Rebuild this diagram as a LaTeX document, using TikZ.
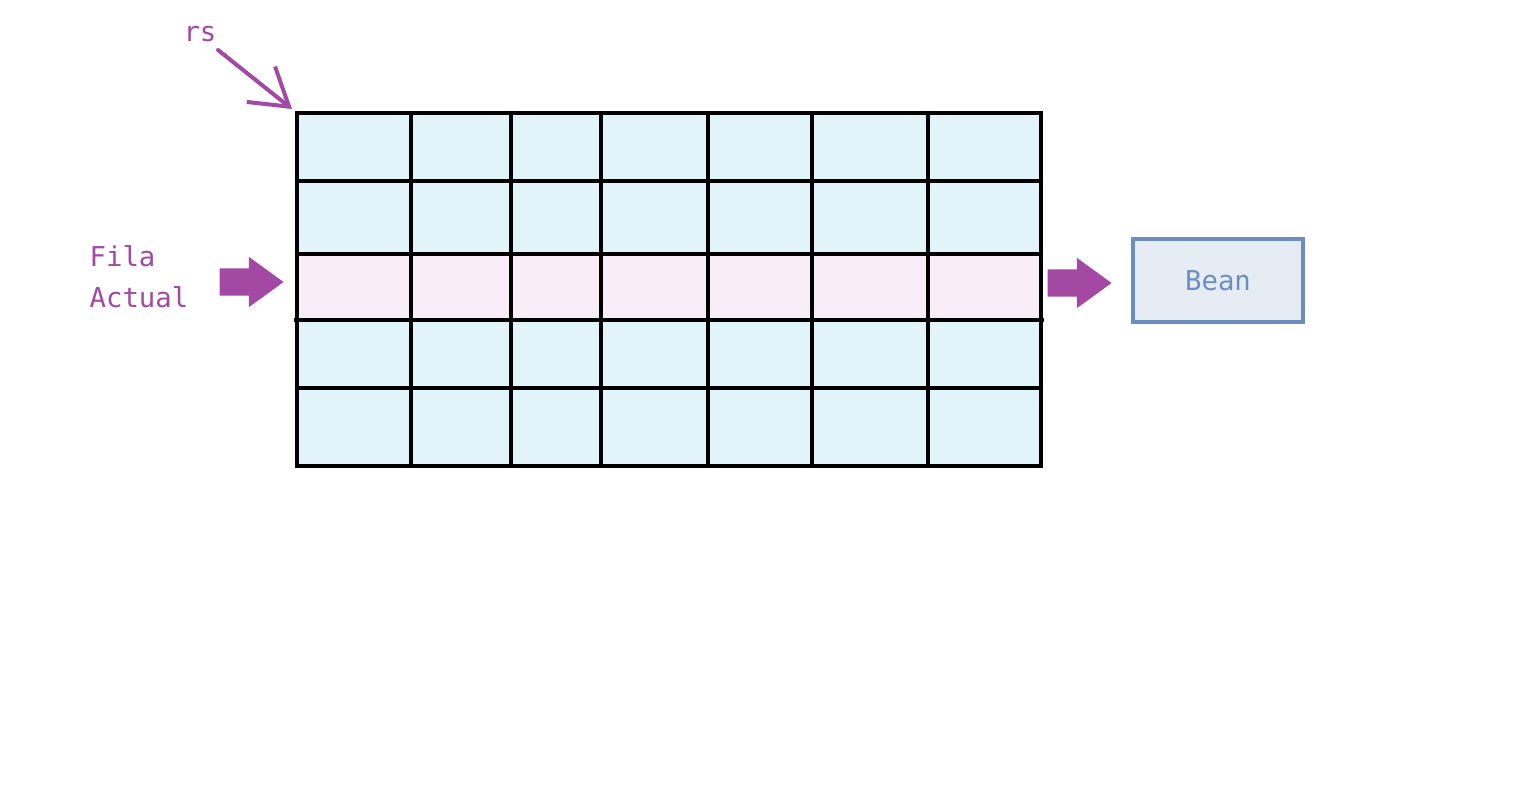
\documentclass[tikz,border=0pt]{standalone}
\usepackage{fontspec}
\setmonofont{DejaVu Sans Mono}
\usetikzlibrary{arrows.meta,shapes.arrows,positioning}

\definecolor{cellblue}{HTML}{E1F4FA}
\definecolor{rowpink}{HTML}{F9EEF8}
\definecolor{purp}{HTML}{A349A4}
\definecolor{beanfill}{HTML}{E6ECF4}
\definecolor{beanline}{HTML}{6C8EBF}

\begin{document}
\begin{tikzpicture}[x=0.75pt,y=-0.75pt,
    gridline/.style={line width=3.4pt,black},
    lbl/.style={font=\ttfamily\fontsize{20.5}{31}\selectfont,text=purp,inner sep=1pt},
    fatarrow/.style={single arrow,fill=purp,draw=none,inner xsep=0pt,inner ysep=10.1pt,
      minimum width=37.5pt,minimum height=48pt,anchor=tip,
      single arrow head extend=8.6pt,single arrow tip angle=72},
    beanbox/.style={draw=beanline,fill=beanfill,line width=3.2pt,
      minimum width=128pt,minimum height=62.5pt,text=beanline,
      font=\ttfamily\fontsize{20.5}{24}\selectfont}]
    \useasboundingbox (0,0) rectangle (1539,800);

    % Fill the cells
    \fill[cellblue] (297,113) rectangle (1041,466);
    % The current row
    \fill[rowpink] (297,254) rectangle (1041,320);

    % Draw the grid
    \foreach \x in {411,511,601,708,812,928}
    \draw[gridline] (\x,113) -- (\x,466);
    \foreach \y in {181,254,388}
    \draw[gridline] (297,\y) -- (1041,\y);
    \draw[gridline] (294,320) -- (1044,320);
    \draw[gridline] (297,113) rectangle (1041,466);

    % The result set pointer
    \coordinate (corner) at (292,109);
    \node[lbl] (rs) at (200,34) {rs};
    \draw[purp,line width=3pt,line cap=round,
      -{Straight Barb[length=27pt,width=34pt,line width=3pt]}]
      (218,50) -- (corner);

    % Current row label and arrows
    \node[lbl,align=left,anchor=west] (fila) at (88,277) {Fila\\Actual};
    \node[fatarrow] (inarrow) at (284,282) {};
    \node[fatarrow] (outarrow) at (1112,283) {};

    % The bean
    \node[beanbox] (bean) at (1218,280.5) {Bean};

  \end{tikzpicture}
\end{document}
